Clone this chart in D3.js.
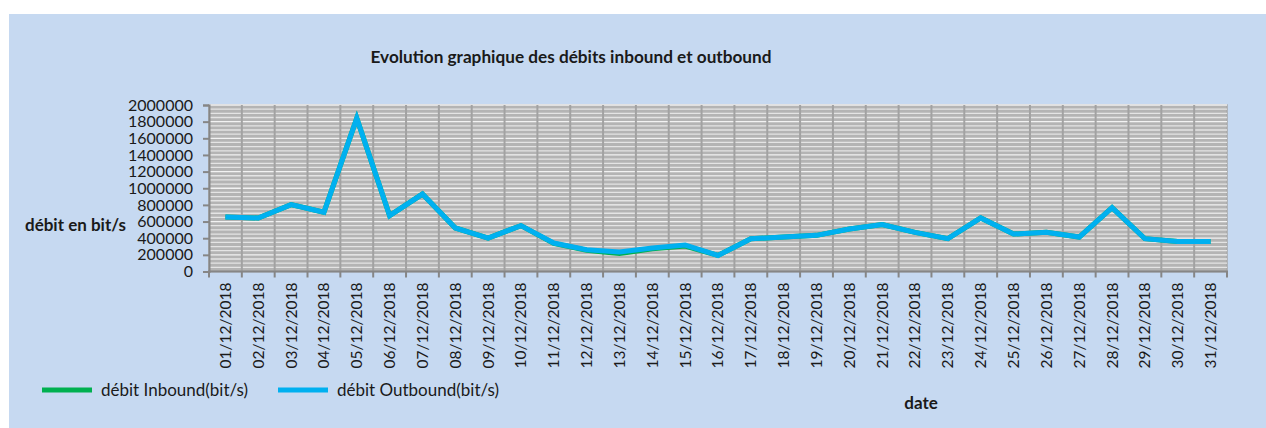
<!DOCTYPE html>
<html>
<head>
<meta charset="utf-8">
<script src="https://cdn.jsdelivr.net/npm/d3@7"></script>
<style>
  body { margin: 0; background: #fff; }
  svg { display: block; }
  text { font-family: Lato, "Open Sans", sans-serif; fill: #1a1a1a; }
</style>
</head>
<body>
<svg id="chart" width="1266" height="428"></svg>
<script>
var dates = ["01/12/2018","02/12/2018","03/12/2018","04/12/2018","05/12/2018","06/12/2018",
  "07/12/2018","08/12/2018","09/12/2018","10/12/2018","11/12/2018","12/12/2018","13/12/2018",
  "14/12/2018","15/12/2018","16/12/2018","17/12/2018","18/12/2018","19/12/2018","20/12/2018",
  "21/12/2018","22/12/2018","23/12/2018","24/12/2018","25/12/2018","26/12/2018","27/12/2018",
  "28/12/2018","29/12/2018","30/12/2018","31/12/2018"];

var inbound = [655000, 643000, 803000, 711000, 1840000, 671000, 930000, 523000, 402000, 551000,
  338000, 255000, 215000, 272000, 305000, 193000, 394000, 414000, 434000, 510000,
  563000, 470000, 394000, 643000, 450000, 470000, 414000, 768000, 394000, 361000, 361000];

var outbound = [655000, 643000, 803000, 711000, 1840000, 671000, 930000, 523000, 402000, 551000,
  342000, 261000, 233000, 282000, 318000, 193000, 394000, 414000, 434000, 510000,
  563000, 470000, 394000, 643000, 450000, 470000, 414000, 768000, 394000, 361000, 361000];

var yTicks = [0, 200000, 400000, 600000, 800000, 1000000, 1200000, 1400000, 1600000, 1800000, 2000000];

var seriesNames = ["débit Inbound(bit/s)", "débit Outbound(bit/s)"];
var colors = ["#00b050", "#00b0f0"];

var svg = d3.select("#chart");

// light blue chart area
svg.append("rect")
  .attr("x", 9).attr("y", 14)
  .attr("width", 1257).attr("height", 414)
  .attr("fill", "#c6d9f1");

var plot = {left: 209, top: 105, right: 1227, bottom: 271.5};

var x = d3.scaleBand().domain(dates).range([plot.left, plot.right]).padding(0);
var y = d3.scaleLinear().domain([0, 2000000]).range([plot.bottom, plot.top]);

svg.append("rect")
  .attr("x", plot.left).attr("y", plot.top)
  .attr("width", plot.right - plot.left).attr("height", plot.bottom - plot.top)
  .attr("fill", "#b4b4b4")
  .attr("stroke", "#a8a8a8").attr("stroke-width", 1.5);

// horizontal grid lines (major + minor)
var minor = d3.range(50000, 2000001, 50000);
svg.append("g").selectAll("line")
  .data(minor)
  .enter().append("line")
  .attr("x1", plot.left).attr("x2", plot.right)
  .attr("y1", function(d) { return y(d); })
  .attr("y2", function(d) { return y(d); })
  .attr("stroke", function(d) { return d % 200000 == 0 ? "#f2f2f2" : "#e4e4e4"; })
  .attr("stroke-width", 1.3);

// vertical grid lines between categories
var bounds = d3.range(1, dates.length).map(function(i) { return plot.left + i * x.step(); });
svg.append("g").selectAll("line")
  .data(bounds)
  .enter().append("line")
  .attr("x1", function(d) { return d; }).attr("x2", function(d) { return d; })
  .attr("y1", plot.top).attr("y2", plot.bottom)
  .attr("stroke", "#a2a2a2")
  .attr("stroke-width", 2);

// y axis
var yAxis = svg.append("g")
  .attr("transform", "translate(" + plot.left + ",0)")
  .call(d3.axisLeft(y).tickValues(yTicks).tickSize(6).tickPadding(10).tickFormat(d3.format("d")));
yAxis.select(".domain").attr("stroke", "#868686").attr("stroke-width", 2);
yAxis.selectAll(".tick line").attr("stroke", "#868686").attr("stroke-width", 2);
yAxis.selectAll(".tick text")
  .style("font-family", "Lato, sans-serif").style("font-size", "16px").attr("fill", "#1a1a1a");

// x axis: labels at category centres, ticks at boundaries
var xAxis = svg.append("g")
  .attr("transform", "translate(0," + plot.bottom + ")")
  .call(d3.axisBottom(x).tickSize(0).tickPadding(0));
xAxis.select(".domain").remove();
xAxis.selectAll(".tick text")
  .attr("transform", "rotate(-90)")
  .attr("x", -11).attr("y", 0).attr("dy", "0.35em")
  .style("text-anchor", "end")
  .style("font-family", "Lato, sans-serif").style("font-size", "15.5px").attr("fill", "#1a1a1a");

svg.append("line")
  .attr("x1", plot.left - 1).attr("x2", plot.right + 1)
  .attr("y1", plot.bottom).attr("y2", plot.bottom)
  .attr("stroke", "#868686").attr("stroke-width", 2);
svg.append("g").selectAll("line")
  .data(d3.range(0, dates.length + 1).map(function(i) { return plot.left + i * x.step(); }))
  .enter().append("line")
  .attr("x1", function(d) { return d; }).attr("x2", function(d) { return d; })
  .attr("y1", plot.bottom).attr("y2", plot.bottom + 6)
  .attr("stroke", "#868686").attr("stroke-width", 2);

// series lines
var line = d3.line()
  .x(function(d, i) { return x(dates[i]) + x.bandwidth() / 2; })
  .y(function(d) { return y(d); });

[inbound, outbound].forEach(function(s, k) {
  svg.append("path")
    .datum(s)
    .attr("d", line)
    .attr("fill", "none")
    .attr("stroke", colors[k])
    .attr("stroke-width", 5)
    .attr("stroke-linejoin", "miter");
});

// titles
svg.append("text")
  .attr("x", 571).attr("y", 63)
  .attr("text-anchor", "middle")
  .style("font-weight", "bold").style("font-size", "17.2px")
  .text("Evolution graphique des débits inbound et outbound");

svg.append("text")
  .attr("x", 25).attr("y", 231)
  .style("font-weight", "bold").style("font-size", "17px")
  .text("débit en bit/s");

svg.append("text")
  .attr("x", 921).attr("y", 409)
  .attr("text-anchor", "middle")
  .style("font-weight", "bold").style("font-size", "17px")
  .text("date");

// legend
var legendX = [42, 278];
seriesNames.forEach(function(name, k) {
  svg.append("line")
    .attr("x1", legendX[k]).attr("x2", legendX[k] + 50)
    .attr("y1", 390).attr("y2", 390)
    .attr("stroke", colors[k]).attr("stroke-width", 5);
  svg.append("text")
    .attr("x", legendX[k] + 59).attr("y", 395.5)
    .style("font-size", "17px")
    .text(name);
});
</script>
</body>
</html>
